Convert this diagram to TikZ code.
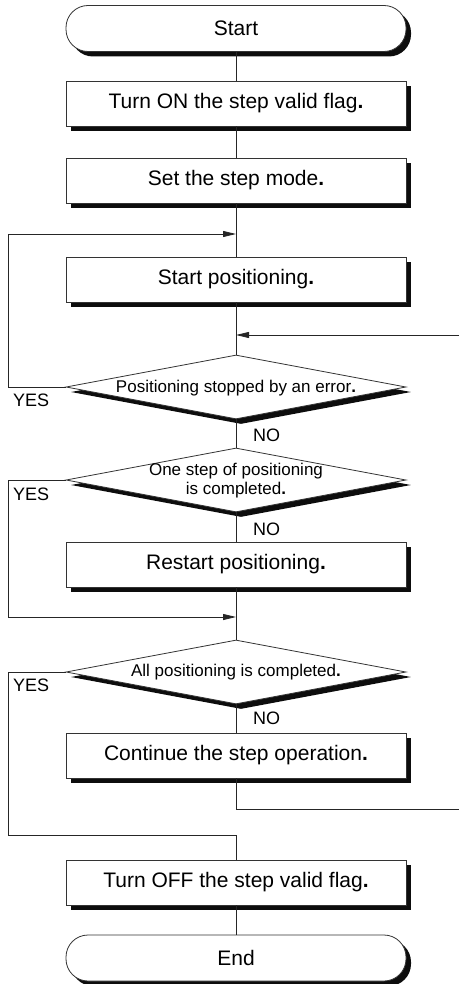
\documentclass[tikz,border=0pt]{standalone}
\usepackage{fontspec}
\setmainfont{Liberation Sans}
\usetikzlibrary{shapes.geometric,shadows,arrows.meta}
\begin{document}
\begin{tikzpicture}[x=1pt,y=-1pt,
  conn/.style={draw=black!85, line width=0.8pt},
  arr/.style={conn, -{Triangle[length=13pt,width=6pt]}},
  shad/.style={drop shadow={shadow xshift=5pt,shadow yshift=-5pt,fill=black!95,opacity=1,draw=none}},
  stepbox/.style={rectangle, draw=black!80, line width=0.8pt, fill=white, minimum width=340pt, minimum height=45pt, inner sep=0pt, font=\fontsize{21}{25}\selectfont, shad},
  term/.style={rectangle, rounded corners=22pt, draw=black!80, line width=0.8pt, fill=white, minimum width=340pt, minimum height=46pt, inner sep=0pt, font=\fontsize{21}{25}\selectfont, shad},
  dia/.style={diamond, aspect=5.3, draw=black!80, line width=0.8pt, fill=white, minimum width=340pt, minimum height=64pt, inner sep=0pt, shad},
  dtext/.style={font=\fontsize{17}{19}\selectfont, align=center, inner sep=0pt},
  lbl/.style={font=\fontsize{18}{20}\selectfont, inner sep=0pt, anchor=west}
]
\useasboundingbox (0,0) rectangle (459,984);

\node[term] (start) at (236,28.5) {Start};
\node[stepbox] (b1) at (236,103.5) {Turn ON the step valid flag{\bfseries .}};
\node[stepbox] (b2) at (236,180.5) {Set the step mode{\bfseries .}};
\node[stepbox] (b3) at (236,279.5) {Start positioning{\bfseries .}};
\node[dia] (d1) at (236,387) {};
\node[dtext] (t1) at (236,388) {Positioning stopped by an error{\bfseries .}};
\node[dia] (d2) at (236,480) {};
\node[dtext] (t2) at (236,481) {One step of positioning\\is completed{\bfseries .}};
\node[stepbox] (b4) at (236,564.5) {Restart positioning{\bfseries .}};
\node[dia] (d3) at (236,672) {};
\node[dtext] (t3) at (236,672) {All positioning is completed{\bfseries .}};
\node[stepbox] (b5) at (236,755.5) {Continue the step operation{\bfseries .}};
\node[stepbox] (b6) at (236,882.5) {Turn OFF the step valid flag{\bfseries .}};
\node[term] (end) at (236,958) {End};

\coordinate (j1) at (236,234);
\coordinate (j2) at (236,335);
\coordinate (r1) at (459,335);
\coordinate (j3) at (236,617);
\coordinate (j4) at (236,809);
\coordinate (r2) at (459,809);
\coordinate (j5) at (236,835);

% main spine
\path[conn] (start.south) -- (b1.north);
\path[conn] (b1.south) -- (b2.north);
\path[conn] (b2.south) -- (b3.north);
\path[conn] (b3.south) -- (d1.north);
\path[conn] (d1.south) -- (d2.north);
\path[conn] (d2.south) -- (b4.north);
\path[conn] (b4.south) -- (d3.north);
\path[conn] (d3.south) -- (b5.north);
\path[conn] (b5.south) -- (j4) -- (r2);
\path[conn] (j5) -- (b6.north);
\path[conn] (b6.south) -- (end.north);

% loops
\path[arr] (d1.west) -- (8,387) -- (8,234) -- (j1);
\path[arr] (r1) -- (j2);
\path[arr] (d2.west) -- (8,480) -- (8,617) -- (j3);
\path[conn] (d3.west) -- (8,672) -- (8,835) -- (j5);

% labels
\node[lbl] (y1) at (13,400) {YES};
\node[lbl] (n1) at (253,435) {NO};
\node[lbl] (y2) at (13,494) {YES};
\node[lbl] (n2) at (253,529) {NO};
\node[lbl] (y3) at (13,685) {YES};
\node[lbl] (n3) at (253,718) {NO};
\end{tikzpicture}
\end{document}
